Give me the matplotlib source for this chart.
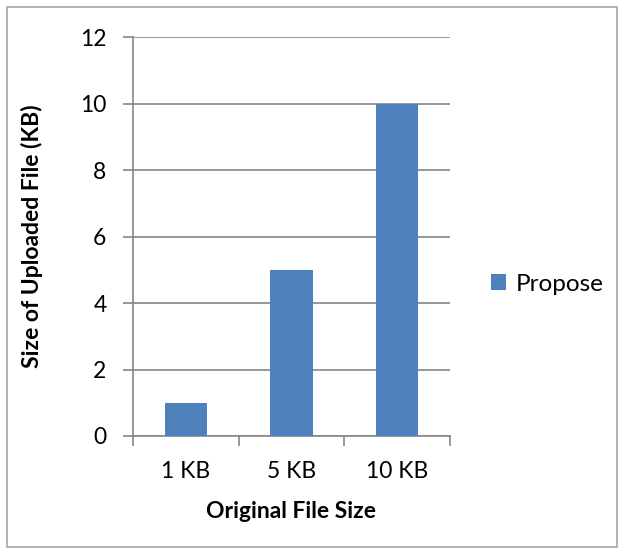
import matplotlib.pyplot as plt
from matplotlib.patches import Rectangle

# Uploaded size vs original size for the proposed scheme
sizes = ["1 KB", "5 KB", "10 KB"]
uploaded_kb = [1, 5, 10]
yticks = [0, 2, 4, 6, 8, 10, 12]

plt.rcParams["font.family"] = ["Lato", "DejaVu Sans"]

fig = plt.figure(figsize=(6.24, 5.54), dpi=100)
ax = fig.add_axes([0.213, 0.213, 0.508, 0.72])

x = range(len(sizes))
ax.bar(x, uploaded_kb, width=0.4, color="#4F81BD", label="Propose", zorder=3)

ax.set_xlim(-0.5, len(sizes) - 0.5)
ax.set_ylim(0, 12)
ax.set_yticks(yticks)
ax.set_xticks(list(x))
ax.set_xticklabels(sizes)
ax.tick_params(axis="both", labelsize=16.5, color="#868686", length=7, width=1.2)
ax.tick_params(axis="y", pad=12)
ax.tick_params(axis="x", pad=18)

# category boundary ticks on the x axis instead of centred ones
ax.set_xticks([-0.5, 0.5, 1.5, 2.5], minor=True)
ax.tick_params(axis="x", which="major", length=0)
ax.tick_params(axis="x", which="minor", length=7, width=1.2, color="#868686")

ax.grid(axis="y", color="#868686", linewidth=1.2, zorder=0)
for side in ["top", "right"]:
    ax.spines[side].set_visible(False)
for side in ["left", "bottom"]:
    ax.spines[side].set_color("#868686")
    ax.spines[side].set_linewidth(1.2)

ax.set_xlabel("Original File Size", fontsize=16.5, fontweight="bold", labelpad=14)
ax.set_ylabel("Size of Uploaded File (KB)", fontsize=16.5, fontweight="bold", labelpad=27)

fig.legend(loc="center left", bbox_to_anchor=(0.752, 0.487), frameon=False,
           fontsize=17.5, handlelength=0.6, handleheight=0.6, handletextpad=0.4)

# light frame round the whole chart
fig.patches.append(Rectangle((0.011, 0.013), 0.978, 0.974, transform=fig.transFigure,
                             fill=False, edgecolor="#A6A6A6", linewidth=1.2))

fig.savefig("out.png", dpi=100)
